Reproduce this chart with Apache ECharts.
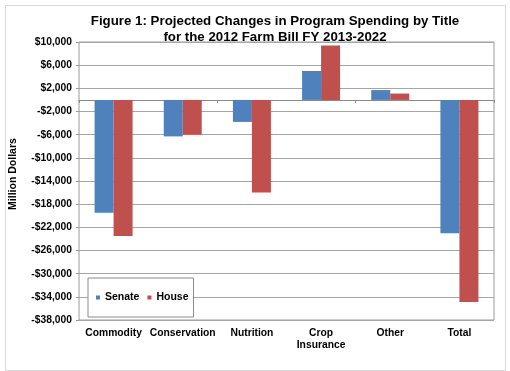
<!DOCTYPE html>
<html>
<head>
<meta charset="utf-8">
<script src="https://cdn.jsdelivr.net/npm/echarts@6/dist/echarts.min.js"></script>
<style>
html,body{margin:0;padding:0;background:#fff;}
#chart{width:510px;height:371px;}
</style>
</head>
<body>
<div id="chart"></div>
<script>
const categories = ['Commodity', 'Conservation', 'Nutrition', 'Crop\nInsurance', 'Other', 'Total'];
const senateValues = [-19500, -6300, -3800, 5000, 1700, -23000];
const houseValues = [-23500, -6000, -16000, 9400, 1100, -34900];
const seriesNames = ['Senate', 'House'];
const yMin = -38000, yMax = 10000, yStep = 4000;

const FONT = 'Arial, "Liberation Sans", sans-serif';
const chart = echarts.init(document.getElementById('chart'), null, {renderer: 'canvas'});

function fmt(v) {
  const a = Math.abs(v).toLocaleString('en-US');
  return (v < 0 ? '-$' : '$') + a;
}

chart.setOption({
  animation: false,
  backgroundColor: '#ffffff',
  title: {
    text: 'Figure 1: Projected Changes in Program Spending by Title\nfor the 2012 Farm Bill FY 2013-2022',
    left: 270,
    top: 8,
    textAlign: 'center',
    textStyle: {fontFamily: FONT, fontSize: 13.3, fontWeight: 'bold', color: '#000', lineHeight: 16}
  },
  graphic: [
    {type: 'rect', left: 3, top: 3, shape: {width: 500, height: 365}, style: {fill: 'none', stroke: '#d9d9d9', lineWidth: 1}, silent: true, z: -1},
    {type: 'text', x: 13, y: 174, rotation: Math.PI / 2,
      style: {text: 'Million Dollars', font: 'bold 10.5px ' + FONT, fill: '#000', textAlign: 'center', textVerticalAlign: 'middle'}}
  ],
  legend: {
    data: seriesNames,
    left: 88,
    top: 278,
    orient: 'horizontal',
    itemWidth: 4,
    itemHeight: 4,
    itemGap: 8,
    padding: [14, 5, 14, 8],
    backgroundColor: '#fff',
    borderColor: '#8c8c8c',
    borderWidth: 1,
    icon: 'rect',
    textStyle: {fontFamily: FONT, fontSize: 10.5, fontWeight: 'bold', color: '#000'},
    z: 10
  },
  grid: {
    left: 79, right: 16, top: 42, bottom: 51,
    show: true, borderColor: '#9a9a9a', borderWidth: 1, backgroundColor: 'transparent'
  },
  xAxis: [
    {
      type: 'category',
      data: categories,
      position: 'bottom',
      axisLine: {show: false, onZero: false},
      axisTick: {show: false},
      axisLabel: {fontFamily: FONT, fontSize: 10.3, fontWeight: 'bold', color: '#000', margin: 7, lineHeight: 12, interval: 0}
    },
    {
      type: 'category',
      data: categories,
      position: 'bottom',
      axisLine: {show: true, onZero: true, lineStyle: {color: '#8a8a8a', width: 1}},
      axisTick: {show: true, length: 3, inside: false, lineStyle: {color: '#8a8a8a'}},
      axisLabel: {show: false},
      splitLine: {show: false}
    }
  ],
  yAxis: {
    type: 'value',
    min: yMin,
    max: yMax,
    interval: yStep,
    axisLine: {show: false},
    axisTick: {show: true, length: 3, lineStyle: {color: '#9a9a9a'}},
    splitLine: {show: true, lineStyle: {color: '#a6a6a6', width: 1}},
    axisLabel: {fontFamily: FONT, fontSize: 10.3, fontWeight: 'bold', color: '#000', margin: 7, formatter: fmt}
  },
  series: [
    {
      name: seriesNames[0], type: 'bar', data: senateValues, xAxisIndex: 0,
      barWidth: 19, barGap: '0%',
      itemStyle: {color: '#4f81bd'}
    },
    {
      name: seriesNames[1], type: 'bar', data: houseValues, xAxisIndex: 0,
      barWidth: 19, barGap: '0%',
      itemStyle: {color: '#c0504d'}
    }
  ]
});
</script>
</body>
</html>
